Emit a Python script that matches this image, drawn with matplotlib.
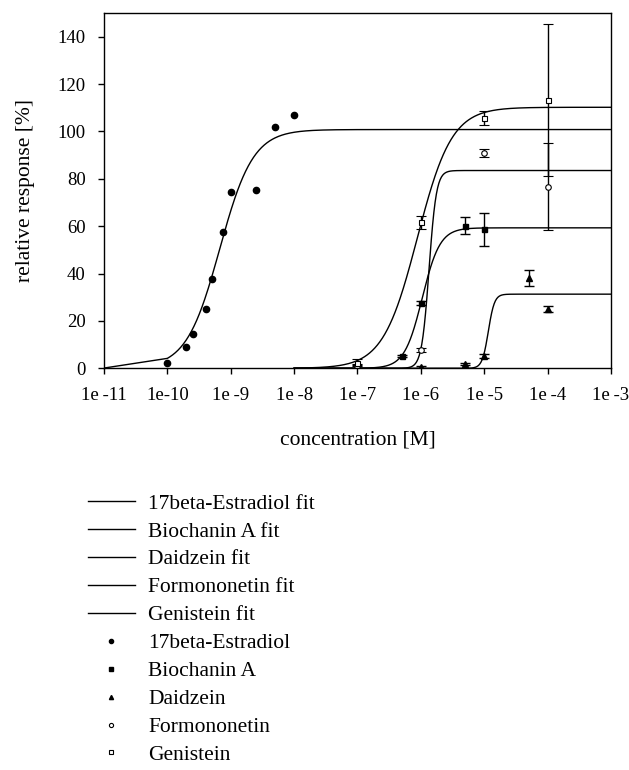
import numpy as np
import matplotlib
matplotlib.use("Agg")
import matplotlib.pyplot as plt
from matplotlib.lines import Line2D

plt.rcParams['font.family'] = ['Liberation Serif', 'DejaVu Serif']
plt.rcParams['font.size'] = 13.5

# measured points
e2_conc = [1e-10, 2e-10, 2.5e-10, 4e-10, 5e-10, 7.5e-10, 1e-9, 2.5e-9, 5e-9, 1e-8]
e2_resp = [2.2, 9.1, 14.4, 25.2, 37.8, 57.5, 74.4, 75.1, 101.8, 107.0]

bio_conc = [1e-7, 5e-7, 1e-6, 5e-6, 1e-5]
bio_resp = [0.8, 5.2, 27.6, 60.2, 58.6]
bio_err = [0.5, 0.6, 1.0, 3.7, 7.0]

dai_conc = [1e-6, 5e-6, 1e-5, 5e-5, 1e-4]
dai_resp = [0.5, 1.7, 5.2, 38.3, 25.1]
dai_err = [0.4, 0.5, 1.0, 3.4, 1.4]

for_conc = [1e-7, 1e-6, 1e-5, 1e-4]
for_resp = [1.1, 7.7, 90.9, 76.6]
for_err = [0.8, 1.0, 1.8, 18.4]

gen_conc = [1e-7, 1e-6, 1e-5, 1e-4]
gen_resp = [2.3, 61.6, 105.7, 113.2]
gen_err = [1.5, 2.6, 2.8, 32.0]

# fit parameters (top, EC50, hill)
fit_names = ['17beta-Estradiol', 'Biochanin A', 'Daidzein', 'Formononetin', 'Genistein']
fit_top = [100.8, 59.3, 31.3, 83.5, 110.2]
fit_ec50 = [6.7e-10, 1.05e-6, 1.16e-5, 1.345e-6, 8.8e-7]
fit_hill = [1.65, 3.1, 9.0, 7.5, 1.6]

xticks = [1e-11, 1e-10, 1e-9, 1e-8, 1e-7, 1e-6, 1e-5, 1e-4, 1e-3]
xticklabels = ['1e\u2009-11', '1e-10', '1e\u2009-9', '1e\u2009-8', '1e\u2009-7',
               '1e\u2009-6', '1e\u2009-5', '1e\u2009-4', '1e\u2009-3']


def hill(x, top, ec50, h):
    return top / (1 + (ec50 / x) ** h)


fig = plt.figure(figsize=(6.29, 7.70), dpi=100)
ax = fig.add_axes([0.1653, 0.5217, 0.8061, 0.4614])

fit_lines = []
for i, name in enumerate(fit_names):
    if i == 0:
        xs = np.concatenate([[1e-11], np.logspace(-10, -3, 500)])
    else:
        xs = np.logspace(-8, -3, 500)
    ln, = ax.plot(xs, hill(xs, fit_top[i], fit_ec50[i], fit_hill[i]),
                  color='black', lw=1.0, label=name + ' fit')
    fit_lines.append(ln)

ekw = dict(ls='none', color='black', ecolor='black', elinewidth=1.0, capsize=3.6, capthick=1.0)
ax.plot(e2_conc, e2_resp, 'o', color='black', ms=4.5)
ax.errorbar(bio_conc, bio_resp, yerr=bio_err, fmt='s', ms=3.6, mfc='black', mec='black', **ekw)
ax.errorbar(dai_conc, dai_resp, yerr=dai_err, fmt='^', ms=4.2, mfc='black', mec='black', **ekw)
ax.errorbar(for_conc, for_resp, yerr=for_err, fmt='o', ms=4.0, mfc='white', mec='black', mew=0.8, **ekw)
ax.errorbar(gen_conc, gen_resp, yerr=gen_err, fmt='s', ms=3.6, mfc='white', mec='black', mew=0.8, **ekw)

ax.set_xscale('log')
ax.set_xlim(1e-11, 1e-3)
ax.set_ylim(0, 150)
ax.set_xticks(xticks)
ax.set_xticklabels(xticklabels)
ax.minorticks_off()
ax.set_yticks(range(0, 141, 20))
ax.tick_params(direction='out', length=4.3, width=1, pad=9, top=False, right=False, labelsize=13.5)
for s in ax.spines.values():
    s.set_linewidth(1.0)
ax.set_xlabel('concentration [M]', fontsize=15.5, labelpad=19)
ax.set_ylabel('relative response [%]', fontsize=15.5, labelpad=16)

# legend proxies for the data points
pt_handles = [
    Line2D([], [], ls='none', marker='o', ms=3.0, mfc='black', mec='black'),
    Line2D([], [], ls='none', marker='s', ms=2.6, mfc='black', mec='black'),
    Line2D([], [], ls='none', marker='^', ms=3.0, mfc='black', mec='black'),
    Line2D([], [], ls='none', marker='o', ms=3.0, mfc='white', mec='black', mew=0.8),
    Line2D([], [], ls='none', marker='s', ms=2.6, mfc='white', mec='black', mew=0.8),
]
handles = fit_lines + pt_handles
labels = [n + ' fit' for n in fit_names] + fit_names
fig.legend(handles, labels, loc='upper left', bbox_to_anchor=(0.14, 0.359),
           frameon=False, handlelength=2.16, handletextpad=0.63,
           labelspacing=0.365, borderpad=0, borderaxespad=0, fontsize=15.5)

fig.savefig('out.png', dpi=100)
